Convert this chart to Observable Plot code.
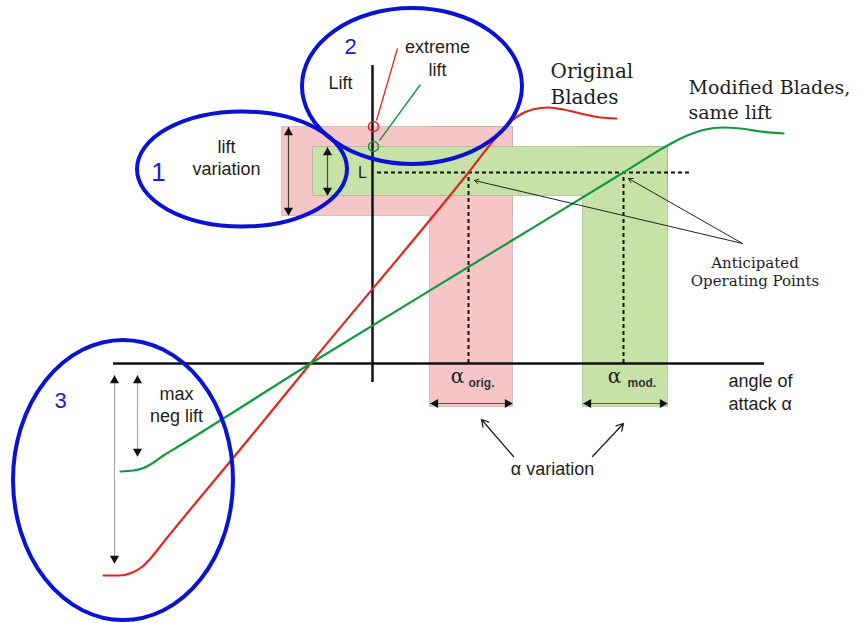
<!DOCTYPE html>
<html><head><meta charset="utf-8">
<script src="https://cdn.jsdelivr.net/npm/d3@7"></script>
<script src="https://cdn.jsdelivr.net/npm/@observablehq/plot@0.6"></script>
<style>html,body{margin:0;padding:0;background:#fff;} #chart svg{display:block;background:#fff;}</style>
</head><body><div id="chart"></div>
<script>
// Diagram units: alpha (angle of attack) horizontally, lift vertically; origin at the axes crossing.
const originalAlpha = [-26.9,-25.4,-24.0,-23.0,-22.2,-21.0,-12.0,-6.2,9.6,12.6,13.6,14.8,16.0,17.6,19.1,20.8,22.8,24.4];
const originalLift  = [-21.2,-21.2,-20.9,-20.3,-19.5,-18.0,-7.1,0,19.1,22.9,24.0,24.9,25.4,25.6,25.4,25.0,24.6,24.5];
const modifiedAlpha = [-25.2,-23.9,-22.9,-21.9,-20.9,-19.5,-6.2,10.0,25.1,29.5,30.8,32.0,33.3,35.0,36.8,38.8,41.1];
const modifiedLift  = [-10.8,-10.7,-10.45,-9.9,-9.2,-8.35,0,9.9,19.1,21.8,22.5,23.0,23.4,23.6,23.5,23.2,23.0];
const designLift = 19.1;                 // L
const operatingAlpha = [9.6, 25.1];      // original, modified
const originalLiftRange = [14.8, 23.6];
const modifiedLiftRange = [16.8, 21.6];
const originalAlphaRange = [5.8, 14.0];
const modifiedAlphaRange = [21.1, 29.5];
const extremeLift = [23.7, 21.7];        // original, modified
const maxNegLift = [-20.0, -9.3];        // original, modified
const zoneLabels = ["1", "2", "3"];

const pink = "#f5c5c7", green = "#c6e2a6";
const sans = "Liberation Sans, Arial, sans-serif";
const serif = "DejaVu Serif, serif";
const ink = "#1e1e1e";
const xDomain = [-37.2, 49.1], yDomain = [-26, 36.3];

const pinkBands = [
  {x1: -9.0, x2: originalAlphaRange[1], y1: originalLiftRange[0], y2: originalLiftRange[1]},
  {x1: originalAlphaRange[0], x2: originalAlphaRange[1], y1: -4.3, y2: originalLiftRange[1]}
];
const greenBands = [
  {x1: -5.9, x2: modifiedAlphaRange[1], y1: modifiedLiftRange[0], y2: modifiedLiftRange[1]},
  {x1: modifiedAlphaRange[0], x2: modifiedAlphaRange[1], y1: -4.3, y2: modifiedLiftRange[1]}
];
const rectOpts = {x1: "x1", x2: "x2", y1: "y1", y2: "y2"};

const original = originalAlpha.map((a, i) => ({a, l: originalLift[i]}));
const modified = modifiedAlpha.map((a, i) => ({a, l: modifiedLift[i]}));

// double-arrow shafts
const vArrows = [
  {x: -8.4, lo: originalLiftRange[0], hi: originalLiftRange[1], c: "#4a3a3a"},
  {x: -4.5, lo: modifiedLiftRange[0], hi: modifiedLiftRange[1], c: "#4a4a3a"},
  {x: -25.8, lo: maxNegLift[0], hi: -1.2, c: "#aaaaaa"},
  {x: -23.5, lo: maxNegLift[1], hi: -1.2, c: "#aaaaaa"}
];
const hArrows = [
  {y: -4.0, lo: originalAlphaRange[0], hi: originalAlphaRange[1]},
  {y: -4.0, lo: modifiedAlphaRange[0], hi: modifiedAlphaRange[1]}
];

const ellipses = [
  {cx: -13.0, cy: 19.4, rx: 10.5, ry: 5.75},
  {cx: 4.0, cy: 27.7, rx: 11.0, ry: 7.8},
  {cx: -24.9, cy: -11.7, rx: 11.0, ry: 14.0}
];
function ellipseMark(index, scales) {
  const x = scales && typeof scales.x === "function" ? scales.x : d3.scaleLinear(xDomain, [0, 863]);
  const y = scales && typeof scales.y === "function" ? scales.y : d3.scaleLinear(yDomain, [623, 0]);
  const g = d3.create("svg:g");
  for (const e of ellipses) {
    g.append("ellipse")
      .attr("cx", x(e.cx)).attr("cy", y(e.cy))
      .attr("rx", Math.abs(x(e.cx + e.rx) - x(e.cx)))
      .attr("ry", Math.abs(y(e.cy + e.ry) - y(e.cy)))
      .attr("fill", "none").attr("stroke", "#0a12d4").attr("stroke-width", 4);
  }
  return g.node();
}

const chart = Plot.plot({
  width: 863, height: 623, margin: 0,
  x: {domain: xDomain, axis: null},
  y: {domain: yDomain, axis: null},
  marks: [
    Plot.rect(pinkBands, {...rectOpts, fill: pink, stroke: "#bba9a9", strokeWidth: 1.4}),
    Plot.rect(pinkBands, {...rectOpts, fill: pink}),
    Plot.rect(greenBands, {...rectOpts, fill: green, stroke: "#a3b094", strokeWidth: 1.4}),
    Plot.rect(greenBands, {...rectOpts, fill: green}),
    // axes
    Plot.ruleY([0], {x1: -25.9, x2: 39.2, stroke: "#111", strokeWidth: 2.5}),
    Plot.ruleX([0], {y1: -1.9, y2: 29.8, stroke: "#111", strokeWidth: 2.5}),
    // design lift and operating points
    Plot.ruleY([designLift], {x1: 0.5, x2: 31.8, stroke: "#111", strokeWidth: 2, strokeDasharray: "4,3"}),
    Plot.ruleX(operatingAlpha, {y1: 0, y2: designLift, stroke: "#111", strokeWidth: 2, strokeDasharray: "4,3"}),
    // double arrows
    Plot.ruleX(vArrows, {x: "x", y1: "lo", y2: "hi", stroke: "c", strokeWidth: 1.2}),
    Plot.dot(vArrows, {x: "x", y: "hi", symbol: "triangle", r: 3.4, fill: "#111", stroke: null, dy: 5}),
    Plot.dot(vArrows, {x: "x", y: "lo", symbol: "triangle", r: 3.4, fill: "#111", stroke: null, dy: -5, rotate: 180}),
    Plot.ruleY(hArrows, {y: "y", x1: "lo", x2: "hi", stroke: "#555", strokeWidth: 1.2}),
    Plot.dot(hArrows, {x: "lo", y: "y", symbol: "triangle", r: 3.4, fill: "#111", stroke: null, dx: 5, rotate: -90}),
    Plot.dot(hArrows, {x: "hi", y: "y", symbol: "triangle", r: 3.4, fill: "#111", stroke: null, dx: -5, rotate: 90}),
    // lift curves
    Plot.line(original, {x: "a", y: "l", stroke: "#e0271f", strokeWidth: 2.2, curve: "monotone-x"}),
    Plot.line(modified, {x: "a", y: "l", stroke: "#119a3e", strokeWidth: 2.2, curve: "monotone-x"}),
    // extreme lift markers
    Plot.link([0], {x1: 2.5, y1: 31.5, x2: 0.4, y2: 24.3, stroke: "#e0271f", strokeWidth: 1.3}),
    Plot.link([0], {x1: 4.8, y1: 27.9, x2: 0.7, y2: 22.3, stroke: "#119a3e", strokeWidth: 1.3}),
    Plot.dot([0], {x: 0.1, y: extremeLift[0], r: 5, stroke: "#e0271f", strokeWidth: 1.5, fill: "none"}),
    Plot.dot([0], {x: 0.1, y: extremeLift[1], r: 5, stroke: "#119a3e", strokeWidth: 1.5, fill: "none"}),
    // annotation arrows
    Plot.arrow([0, 1], {x1: 37.0, y1: 12.0, x2: (d, i) => [10.2, 25.6][i], y2: (d, i) => [18.3, 18.5][i],
      stroke: "#222", strokeWidth: 1, headLength: 7}),
    Plot.arrow([0], {x1: 14.1, y1: -9.3, x2: 10.9, y2: -5.6, stroke: "#222", strokeWidth: 1.3, headLength: 9}),
    Plot.arrow([0], {x1: 22.0, y1: -9.3, x2: 25.1, y2: -6.0, stroke: "#222", strokeWidth: 1.3, headLength: 9}),
    // zone ellipses
    ellipseMark,
    // sans labels
    Plot.text(["lift", "variation"], {x: -14.6, y: (d, i) => [21.6, 19.4][i], text: d => d,
      fontFamily: sans, fontSize: 18, fill: ink}),
    Plot.text(["Lift"], {x: -3.2, y: 28.0, text: d => d, fontFamily: sans, fontSize: 18, fill: ink}),
    Plot.text(["extreme", "lift"], {x: 6.5, y: (d, i) => [31.6, 29.3][i], text: d => d,
      fontFamily: sans, fontSize: 18, fill: ink}),
    Plot.text(["L"], {x: -1.0, y: designLift, text: d => d, fontFamily: sans, fontSize: 16, fill: ink}),
    Plot.text(["max", "neg lift"], {x: -19.6, y: (d, i) => [-3.1, -5.3][i], text: d => d,
      fontFamily: sans, fontSize: 18, fill: ink}),
    Plot.text(["angle of", "attack α"], {x: 35.6, y: (d, i) => [-1.8, -4.1][i], text: d => d,
      textAnchor: "start", fontFamily: sans, fontSize: 18, fill: ink}),
    Plot.text(["α variation"], {x: 18.0, y: -10.6, text: d => d, fontFamily: sans, fontSize: 18, fill: ink}),
    // alpha band labels
    Plot.text(["α", "α"], {x: (d, i) => [8.5, 24.2][i], y: -1.3, text: d => d, fontFamily: serif, fontSize: 20, fill: ink}),
    Plot.text(["orig.", "mod."], {x: (d, i) => [9.6, 25.5][i], y: -2.0, text: d => d, textAnchor: "start",
      fontFamily: sans, fontSize: 12, fontWeight: "bold", fill: "#333"}),
    // serif labels
    Plot.text(["Original", "Blades"], {x: 17.8, y: (d, i) => [29.2, 26.6][i], text: d => d, textAnchor: "start",
      fontFamily: serif, fontSize: 20, fill: ink}),
    Plot.text(["Modified Blades,", "same lift"], {x: 31.6, y: (d, i) => [27.6, 25.1][i], text: d => d, textAnchor: "start",
      fontFamily: serif, fontSize: 19, fill: ink}),
    Plot.text(["Anticipated", "Operating Points"], {x: 38.25, y: (d, i) => [10.0, 8.2][i], text: d => d,
      fontFamily: serif, fontSize: 15, fill: ink}),
    // zone numbers
    Plot.text(zoneLabels, {x: (d, i) => [-21.4, -2.2, -31.2][i], y: (d, i) => [19.1, 31.7, -3.7][i], text: d => d,
      fontFamily: sans, fontSize: (d, i) => [26, 22, 22][i], fill: "#1420d0"})
  ]
});
document.getElementById("chart").appendChild(chart);
</script>
</body></html>
